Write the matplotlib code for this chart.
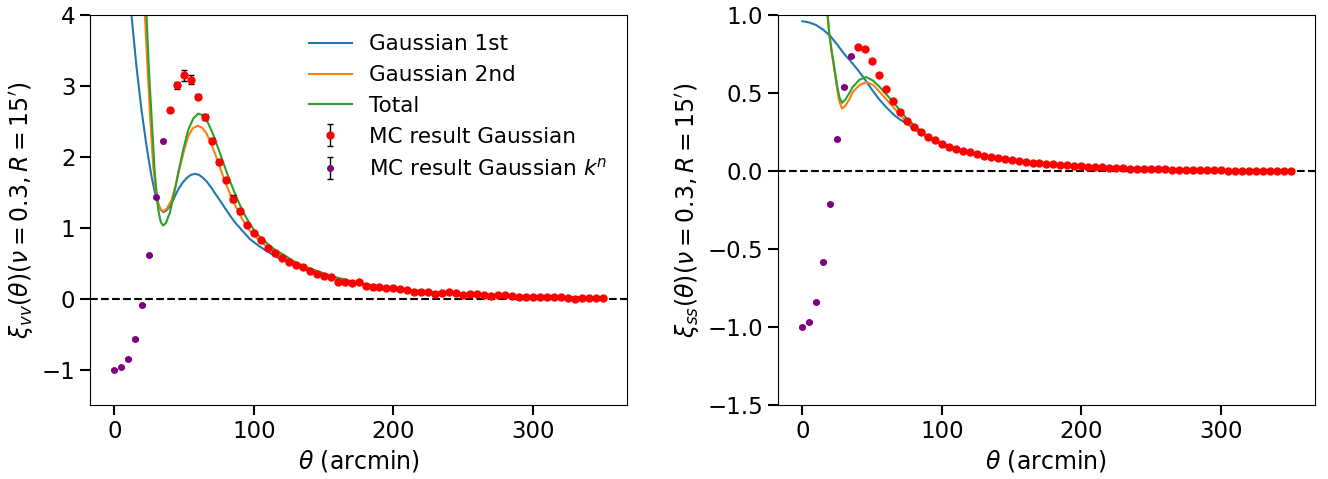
import matplotlib
matplotlib.use("Agg")
import matplotlib.pyplot as plt
import numpy as np

# ---- data ----
# MC points: purple for small theta, red for the rest
theta_knp = [0, 5, 10, 15, 20, 25, 30, 35]
theta_mc = np.arange(40, 355, 5)

vv_knp = [-1.0, -0.97, -0.85, -0.57, -0.09, 0.61, 1.43, 2.23]
vv_mc = [2.66, 3.01, 3.15, 3.09, 2.85, 2.56, 2.23, 1.93, 1.67, 1.41,
         1.23, 1.04, 0.92, 0.82, 0.72, 0.64, 0.58, 0.52, 0.47, 0.44,
         0.385, 0.35, 0.32, 0.31, 0.24, 0.24, 0.225, 0.24, 0.183, 0.164,
         0.164, 0.155, 0.145, 0.136, 0.127, 0.10, 0.10, 0.10, 0.061, 0.075,
         0.089, 0.075, 0.047, 0.066, 0.061, 0.056, 0.042, 0.052, 0.052, 0.038,
         0.028, 0.028, 0.028, 0.028, 0.023, 0.019, 0.019, 0.014, 0.0, 0.009,
         0.005, 0.009, 0.015]
vv_mc_err = [0.03, 0.05, 0.08, 0.06, 0.04, 0.045, 0.03, 0.03, 0.03, 0.05,
             0.03, 0.02, 0.02, 0.02, 0.02, 0.025, 0.02, 0.02, 0.02, 0.02,
             0.02, 0.02, 0.015, 0.015, 0.015, 0.015, 0.02, 0.015, 0.015, 0.015,
             0.015, 0.015, 0.015, 0.015, 0.015, 0.015, 0.015, 0.015, 0.015, 0.015,
             0.015, 0.015, 0.015, 0.015, 0.015, 0.015, 0.015, 0.015, 0.015, 0.015,
             0.015, 0.015, 0.015, 0.015, 0.015, 0.015, 0.015, 0.015, 0.015, 0.015,
             0.015, 0.015, 0.015]
vv_knp_err = [0.01] * 8

ss_knp = [-1.0, -0.968, -0.838, -0.581, -0.209, 0.202, 0.540, 0.738]
ss_mc = [0.796, 0.78, 0.706, 0.615, 0.523, 0.447, 0.377, 0.323, 0.281, 0.249,
         0.221, 0.196, 0.174, 0.157, 0.142, 0.130, 0.119, 0.109, 0.098, 0.089,
         0.081, 0.074, 0.068, 0.062, 0.057, 0.053, 0.051, 0.047, 0.043, 0.040,
         0.036, 0.034, 0.030, 0.028, 0.026, 0.023, 0.021, 0.019, 0.017, 0.015,
         0.015, 0.013, 0.013, 0.011, 0.011, 0.009, 0.009, 0.006, 0.006, 0.006,
         0.004, 0.004, 0.004, 0.002, 0.002, 0.002, 0.002, 0.002, 0.0, 0.0,
         0.0, 0.0, 0.0]
ss_mc_err = [0.005] * 63
ss_knp_err = [0.005] * 8

# ---- model curves, left panel (xi_vv) ----
vv_g1_t = [10, 12.2, 15.8, 19.4, 23, 26.6, 30.2, 33, 35, 37, 39.7, 42.5, 45.7,
           48.7, 51.7, 54.7, 57.7, 60.7, 63.7, 66.6, 69.6, 73, 76.8, 80.5, 84,
           87.5, 91.2, 97.1, 103, 110, 117, 124.7, 132, 141.4, 150, 158, 170,
           180, 190, 200, 220, 240, 260, 280, 300, 325, 350]
vv_g1 = [4.7, 4.0, 3.27, 2.66, 2.15, 1.72, 1.39, 1.26, 1.22, 1.24, 1.30, 1.41,
         1.54, 1.63, 1.70, 1.745, 1.76, 1.745, 1.70, 1.64, 1.56, 1.46, 1.35,
         1.24, 1.14, 1.05, 0.97, 0.84, 0.75, 0.66, 0.58, 0.51, 0.44, 0.375,
         0.325, 0.285, 0.232, 0.196, 0.166, 0.142, 0.103, 0.076, 0.056, 0.042,
         0.031, 0.021, 0.013]

vv_g2_t = [20, 21.8, 23.7, 25.4, 27.8, 30.2, 32.5, 35, 37.5, 40.9, 43.9, 46.9,
           49.9, 52.9, 56, 59.6, 62.8, 66, 69, 72, 75.6, 79.2, 82.8, 86.4, 90,
           93.5, 97, 100.7, 105, 110, 115, 122, 130, 140, 150, 160, 170, 180,
           190, 200, 220, 240, 260, 280, 300, 325, 350]
vv_g2 = [4.7, 4.0, 3.27, 2.62, 1.86, 1.44, 1.27, 1.23, 1.27, 1.39, 1.60, 1.86,
         2.09, 2.29, 2.40, 2.44, 2.41, 2.33, 2.20, 2.05, 1.85, 1.65, 1.48, 1.32,
         1.18, 1.06, 0.96, 0.88, 0.80, 0.73, 0.66, 0.585, 0.49, 0.41, 0.345,
         0.285, 0.235, 0.197, 0.167, 0.143, 0.104, 0.077, 0.057, 0.043, 0.032,
         0.021, 0.013]

vv_tot_t = [21, 23, 24.6, 26.6, 28.9, 31.4, 33.2, 35, 37, 39.7, 42.7, 45.7,
            49.3, 52.9, 56.5, 60.1, 63.7, 67.3, 70.9, 74.4, 78, 81.6, 85.2,
            88.8, 92.4, 96, 99.6, 103.2, 110, 115, 122, 130, 140, 146, 150, 160,
            170, 180, 190, 200, 220, 240, 260, 280, 300, 325, 350]
vv_tot = [4.9, 4.0, 3.27, 2.57, 1.77, 1.25, 1.08, 1.03, 1.07, 1.21, 1.47, 1.77,
          2.10, 2.38, 2.54, 2.61, 2.58, 2.47, 2.31, 2.12, 1.92, 1.72, 1.54, 1.37,
          1.22, 1.09, 0.98, 0.89, 0.77, 0.69, 0.61, 0.51, 0.425, 0.385, 0.355,
          0.295, 0.245, 0.205, 0.173, 0.148, 0.107, 0.079, 0.059, 0.044, 0.033,
          0.022, 0.014]

# ---- model curves, right panel (xi_ss) ----
ss_g1_t = [0, 5, 10, 15, 20, 25, 30, 35, 40, 45, 50, 55, 60, 66, 70, 75.7, 80,
           85.3, 90, 95, 100, 110, 120, 130, 140, 150, 160, 170, 180, 190, 200,
           225, 250, 275, 300, 325, 350]
ss_g1 = [0.96, 0.952, 0.935, 0.905, 0.866, 0.81, 0.75, 0.70, 0.645, 0.585,
         0.52, 0.46, 0.41, 0.357, 0.33, 0.30, 0.27, 0.24, 0.215, 0.19, 0.17,
         0.14, 0.117, 0.097, 0.081, 0.068, 0.057, 0.049, 0.042, 0.036, 0.031,
         0.021, 0.014, 0.009, 0.005, 0.003, 0.002]

ss_g2_t = [16, 18.1, 19.3, 21, 22.9, 24.7, 26.5, 28.5, 31, 33.7, 36.1, 40.9,
           45.8, 50.6, 55.5, 60.3, 65.1, 70, 74.8, 80, 84.4, 90, 95, 100, 110,
           120, 130, 140, 150, 160, 170, 180, 200, 225, 250, 275, 300, 325, 350]
ss_g2 = [1.25, 1.0, 0.88, 0.76, 0.65, 0.54, 0.445, 0.40, 0.42, 0.46, 0.506,
         0.55, 0.57, 0.553, 0.506, 0.458, 0.41, 0.36, 0.315, 0.28, 0.25, 0.218,
         0.194, 0.174, 0.142, 0.118, 0.098, 0.081, 0.068, 0.057, 0.049, 0.042,
         0.031, 0.021, 0.014, 0.009, 0.005, 0.003, 0.002]

ss_tot_t = [16, 18.1, 19.3, 21, 22.9, 24.7, 26.5, 28.5, 31, 33.7, 36.1, 40.9,
            45.8, 50.6, 55.5, 60.3, 65.1, 70, 74.8, 80, 84.4, 90, 95, 100, 110,
            120, 130, 140, 150, 160, 170, 180, 200, 225, 250, 275, 300, 325, 350]
ss_tot = [1.25, 1.0, 0.88, 0.77, 0.666, 0.56, 0.474, 0.437, 0.46, 0.50, 0.538,
          0.585, 0.602, 0.58, 0.538, 0.49, 0.442, 0.388, 0.336, 0.295, 0.262,
          0.224, 0.198, 0.177, 0.144, 0.12, 0.099, 0.082, 0.068, 0.057, 0.049,
          0.042, 0.031, 0.021, 0.014, 0.009, 0.005, 0.003, 0.002]

plt.rcParams['xtick.labelsize'] = 16.5
plt.rcParams['ytick.labelsize'] = 16.5
plt.rcParams['axes.labelsize'] = 17

fig = plt.figure(figsize=(13.28, 4.79), dpi=100)
ax1 = fig.add_axes([0.0678, 0.1545, 0.4044, 0.8142])
ax2 = fig.add_axes([0.5858, 0.1545, 0.4044, 0.8142])

lw = 1.5
err_kw = dict(fmt='o', ecolor='black', elinewidth=1, capsize=2)

# left panel
ax1.plot(vv_g1_t, vv_g1, color='C0', lw=lw, label='Gaussian 1st')
ax1.plot(vv_g2_t, vv_g2, color='C1', lw=lw, label='Gaussian 2nd')
ax1.plot(vv_tot_t, vv_tot, color='C2', lw=lw, label='Total')
ax1.errorbar(theta_mc, vv_mc, yerr=vv_mc_err, color='red', ms=5,
             label='MC result Gaussian', **err_kw)
ax1.errorbar(theta_knp, vv_knp, yerr=vv_knp_err, color='purple', ms=4,
             label=r'MC result Gaussian $k^n$', **err_kw)
ax1.axhline(0, color='black', ls='--', lw=1.5)
ax1.set_ylim(-1.5, 4)
ax1.set_xlim(-17.5, 367.5)
ax1.set_yticks([-1, 0, 1, 2, 3, 4])
ax1.set_xticks([0, 100, 200, 300])
ax1.set_xlabel(r'$\theta$ (arcmin)')
ax1.set_ylabel(r"$\xi_{vv}(\theta)(\nu = 0.3, R = 15')$")
ax1.legend(loc='upper right', frameon=False, fontsize=15.5, labelspacing=0.5)

# right panel
ax2.plot(ss_g1_t, ss_g1, color='C0', lw=lw, label='Gaussian 1st')
ax2.plot(ss_g2_t, ss_g2, color='C1', lw=lw, label='Gaussian 2nd')
ax2.plot(ss_tot_t, ss_tot, color='C2', lw=lw, label='Total')
ax2.errorbar(theta_mc, ss_mc, yerr=ss_mc_err, color='red', ms=5,
             label='MC result Gaussian', **err_kw)
ax2.errorbar(theta_knp, ss_knp, yerr=ss_knp_err, color='purple', ms=4,
             label=r'MC result Gaussian $k^n$', **err_kw)
ax2.axhline(0, color='black', ls='--', lw=1.5)
ax2.set_ylim(-1.5, 1.0)
ax2.set_xlim(-17.5, 367.5)
ax2.set_yticks([-1.5, -1.0, -0.5, 0.0, 0.5, 1.0])
ax2.set_xticks([0, 100, 200, 300])
ax2.set_xlabel(r'$\theta$ (arcmin)')
ax2.set_ylabel(r"$\xi_{ss}(\theta)(\nu = 0.3, R = 15')$")

for ax in (ax1, ax2):
    ax.tick_params(length=7, width=1.5)

fig.savefig('out.png', dpi=100)
